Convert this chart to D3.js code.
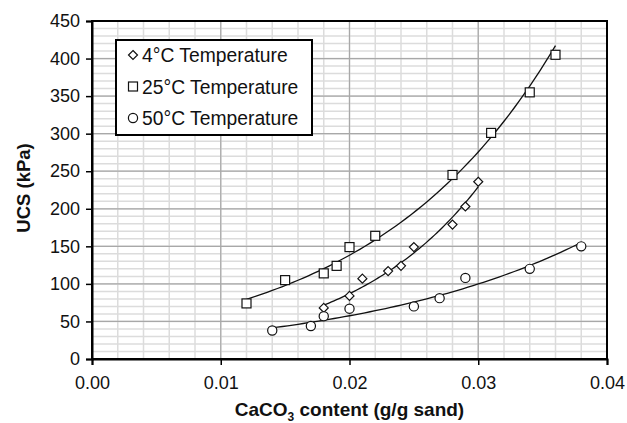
<!DOCTYPE html>
<html>
<head>
<meta charset="utf-8">
<script src="https://cdn.jsdelivr.net/npm/d3@7"></script>
<style>
  body { margin: 0; background: #fff; }
  svg { display: block; }
</style>
</head>
<body>
<div id="chart"></div>
<script>
// data
const series = ["4°C Temperature", "25°C Temperature", "50°C Temperature"];
const temp4x = [0.018, 0.020, 0.021, 0.023, 0.024, 0.025, 0.028, 0.029, 0.030];
const temp4y = [68, 84, 107, 117, 124, 149, 179, 203, 236];
const temp25x = [0.012, 0.015, 0.018, 0.019, 0.020, 0.022, 0.028, 0.031, 0.034, 0.036];
const temp25y = [74, 105, 114, 124, 149, 164, 245, 301, 355, 405];
const temp50x = [0.014, 0.017, 0.018, 0.020, 0.025, 0.027, 0.029, 0.034, 0.038];
const temp50y = [38, 44, 57, 67, 70, 81, 108, 120, 150];
const xTicks = [0, 0.01, 0.02, 0.03, 0.04];
const yTicks = [0, 50, 100, 150, 200, 250, 300, 350, 400, 450];

const width = 627, height = 423;
const marginTop = 21, marginRight = 20, marginBottom = 64, marginLeft = 92;

const svg = d3.select("#chart").append("svg")
    .attr("width", width)
    .attr("height", height)
    .style("font-family", "'Liberation Sans', Arial, sans-serif");

const x = d3.scaleLinear().domain([0, 0.04]).range([marginLeft, width - marginRight]);
const y = d3.scaleLinear().domain([0, 450]).range([height - marginBottom, marginTop]);

// minor grid
svg.append("g").selectAll("line")
    .data(d3.range(0, 0.0401, 0.002))
    .join("line")
    .attr("x1", d => x(d)).attr("x2", d => x(d))
    .attr("y1", y(0)).attr("y2", y(450))
    .attr("stroke", "#dcdcdc").attr("stroke-width", 1.5);
svg.append("g").selectAll("line")
    .data(d3.range(0, 451, 10))
    .join("line")
    .attr("x1", x(0)).attr("x2", x(0.04))
    .attr("y1", d => y(d)).attr("y2", d => y(d))
    .attr("stroke", "#dcdcdc").attr("stroke-width", 1.5);
// major grid
svg.append("g").selectAll("line")
    .data(xTicks)
    .join("line")
    .attr("x1", d => x(d)).attr("x2", d => x(d))
    .attr("y1", y(0)).attr("y2", y(450))
    .attr("stroke", "#a8a8a8").attr("stroke-width", 1.2);
svg.append("g").selectAll("line")
    .data(yTicks)
    .join("line")
    .attr("x1", x(0)).attr("x2", x(0.04))
    .attr("y1", d => y(d)).attr("y2", d => y(d))
    .attr("stroke", "#a8a8a8").attr("stroke-width", 1.2);

// exponential trend lines (least squares on ln y), like the spreadsheet ones
const expFit = (xs, ys) => {
    const ly = ys.map(Math.log);
    const mx = d3.mean(xs), my = d3.mean(ly);
    const b = d3.sum(xs, (v, i) => (v - mx) * (ly[i] - my)) / d3.sum(xs, v => (v - mx) ** 2);
    const a = Math.exp(my - b * mx);
    const [lo, hi] = d3.extent(xs);
    return d3.range(0, 61).map(i => {
        const xv = lo + (hi - lo) * i / 60;
        return [xv, a * Math.exp(b * xv)];
    });
};
const line = d3.line().x(d => x(d[0])).y(d => y(d[1]));
const groups = [
    { xs: temp4x, ys: temp4y, shape: "diamond" },
    { xs: temp25x, ys: temp25y, shape: "square" },
    { xs: temp50x, ys: temp50y, shape: "circle" }
];
groups.forEach(g => {
    svg.append("path")
        .attr("d", line(expFit(g.xs, g.ys)))
        .attr("fill", "none")
        .attr("stroke", "#111")
        .attr("stroke-width", 1.3);
});

const drawMarker = (sel, shape, cx, cy) => {
    if (shape === "diamond") {
        sel.append("path")
            .attr("d", `M${cx},${cy - 4.5}L${cx + 4.5},${cy}L${cx},${cy + 4.5}L${cx - 4.5},${cy}Z`);
    } else if (shape === "square") {
        sel.append("rect")
            .attr("x", cx - 4.5).attr("y", cy - 4.5)
            .attr("width", 9).attr("height", 9);
    } else {
        sel.append("circle").attr("cx", cx).attr("cy", cy).attr("r", 4.6);
    }
};

groups.forEach(g => {
    const mg = svg.append("g").attr("fill", "#fff").attr("stroke", "#111").attr("stroke-width", 1.2);
    g.xs.forEach((xv, i) => drawMarker(mg, g.shape, x(xv), y(g.ys[i])));
});

// frame
svg.append("rect")
    .attr("x", x(0)).attr("y", y(450))
    .attr("width", x(0.04) - x(0)).attr("height", y(0) - y(450))
    .attr("fill", "none").attr("stroke", "#000").attr("stroke-width", 2);

// axes
const gx = svg.append("g")
    .attr("transform", `translate(0,${y(0)})`)
    .call(d3.axisBottom(x).tickValues(xTicks).tickFormat(d3.format(".2f")).tickSize(6).tickPadding(11));
const gy = svg.append("g")
    .attr("transform", `translate(${x(0)},0)`)
    .call(d3.axisLeft(y).tickValues(yTicks).tickSize(6).tickPadding(6));
[gx, gy].forEach(g => {
    g.select(".domain").attr("stroke", "#000").attr("stroke-width", 2);
    g.selectAll(".tick line").attr("stroke", "#000").attr("stroke-width", 1.5);
    g.selectAll(".tick text").attr("fill", "#111").style("font-size", "18px")
        .style("font-family", "'Liberation Sans', Arial, sans-serif");
});

// axis titles
const xTitle = svg.append("text")
    .attr("x", (x(0) + x(0.04)) / 2)
    .attr("y", 416)
    .attr("text-anchor", "middle")
    .attr("font-weight", "bold")
    .attr("font-size", 19)
    .attr("fill", "#111");
xTitle.append("tspan").text("CaCO");
xTitle.append("tspan").attr("font-size", 12).attr("dy", 5).text("3");
xTitle.append("tspan").attr("dy", -5).text(" content (g/g sand)");

svg.append("text")
    .attr("transform", `translate(30,${(y(0) + y(450)) / 2 - 2}) rotate(-90)`)
    .attr("text-anchor", "middle")
    .attr("font-weight", "bold")
    .attr("font-size", 18.5)
    .attr("fill", "#111")
    .text("UCS (kPa)");

// legend
const legend = svg.append("g");
legend.append("rect")
    .attr("x", 116).attr("y", 40)
    .attr("width", 196).attr("height", 95)
    .attr("fill", "#fff").attr("stroke", "#000").attr("stroke-width", 2);
groups.forEach((g, i) => {
    const ly = 55 + i * 31.5;
    const mg = legend.append("g").attr("fill", "#fff").attr("stroke", "#111").attr("stroke-width", 1.2);
    drawMarker(mg, g.shape, 133, ly);
    legend.append("text")
        .attr("x", 142).attr("y", ly + 7)
        .attr("font-size", 19.3)
        .attr("fill", "#111")
        .text(series[i]);
});
</script>
</body>
</html>
